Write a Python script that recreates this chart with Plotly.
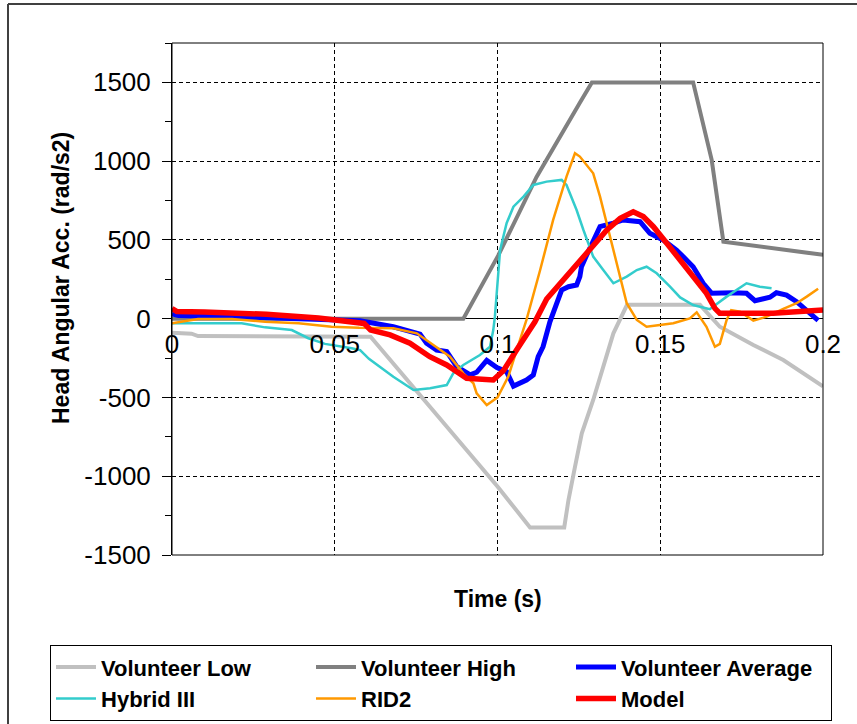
import plotly.graph_objects as go

# ---- series data: time (s) and head angular acceleration (rad/s2) ----
t_low = [0, 0.006, 0.008, 0.061, 0.1, 0.11, 0.1205, 0.1218, 0.1238, 0.1259, 0.1294, 0.1325,
         0.1356, 0.1398, 0.1622, 0.1683, 0.1786, 0.1878, 0.2]
v_low = [-90, -95, -110, -115, -1065, -1325, -1325, -1151, -940, -728, -516, -305,
         -93, 88, 88, -51, -167, -262, -430]

t_high = [0, 0.0895, 0.1002, 0.112, 0.1253, 0.129, 0.1601, 0.1658, 0.1694, 0.2]
v_high = [0, 0, 400, 900, 1370, 1500, 1500, 1008, 489, 405]

t_avg = [0, 0.002, 0.027, 0.0496, 0.0578, 0.068, 0.0721, 0.0762, 0.0782, 0.0813, 0.0844, 0.0875,
         0.0916, 0.0936, 0.0967, 0.0998, 0.1028, 0.1049, 0.1089, 0.111, 0.1125, 0.114, 0.1161,
         0.1182, 0.1197, 0.1218, 0.1243, 0.1253, 0.1258, 0.1274, 0.1294, 0.1315, 0.1356, 0.1386,
         0.1438, 0.1468, 0.1509, 0.155, 0.157, 0.1601, 0.1632, 0.1658, 0.1724, 0.1765, 0.1791,
         0.1837, 0.1857, 0.1888, 0.1919, 0.195, 0.1985]
v_avg = [30, 20, 8, -8, -13, -51, -72, -98, -156, -199, -209, -305,
         -357, -340, -265, -310, -336, -428, -389, -357, -241, -178, -20,
         105, 182, 203, 214, 267, 330, 404, 500, 584, 606, 627,
         616, 542, 500, 436, 394, 330, 225, 161, 165, 161, 114,
         136, 165, 150, 108, 55, -10]

t_hyb = [0, 0.008, 0.0214, 0.0286, 0.0368, 0.0419, 0.047, 0.0552, 0.0578, 0.0605, 0.068, 0.0742,
         0.0793, 0.0844, 0.0864, 0.0895, 0.0946, 0.0977, 0.0987, 0.0992, 0.1003, 0.1008, 0.1028,
         0.1049, 0.108, 0.111, 0.1151, 0.1197, 0.1212, 0.1243, 0.1264, 0.1294, 0.1325, 0.1356,
         0.1397, 0.1428, 0.1458, 0.1489, 0.153, 0.1561, 0.1601, 0.1652, 0.1704, 0.1765, 0.1806,
         0.1842]
v_hyb = [-29, -29, -29, -55, -72, -124, -160, -188, -199, -255, -368, -453,
         -442, -421, -347, -294, -231, -178, -72, 13, 350, 436, 606,
         711, 775, 849, 870, 881, 849, 690, 563, 394, 309, 225,
         267, 309, 330, 288, 203, 135, 87, 60, 140, 225, 203,
         193]

t_rid = [0, 0.008, 0.0184, 0.0286, 0.0389, 0.049, 0.0575, 0.068, 0.0752, 0.0803, 0.0854, 0.0895,
         0.0926, 0.0936, 0.0967, 0.1, 0.1033, 0.1059, 0.1089, 0.1131, 0.1171, 0.1212, 0.1238,
         0.1253, 0.1294, 0.1315, 0.1336, 0.1366, 0.1397, 0.1428, 0.1458, 0.1499, 0.154, 0.1591,
         0.1612, 0.1642, 0.1668, 0.1683, 0.1704, 0.1718, 0.1745, 0.1786, 0.1827, 0.1878, 0.1919,
         0.195, 0.1985]
v_rid = [-29, -2, -2, -19, -29, -51, -58, -61, -93, -167, -241, -347,
         -410, -474, -548, -500, -368, -199, -8, 309, 627, 902, 1050,
         1029, 923, 775, 606, 352, 98, -8, -51, -40, -29, 2,
         40, -51, -178, -160, -8, 55, 45, -12, 13, 63, 98,
         140, 190]

t_model = [0, 0.0015, 0.01, 0.029, 0.045, 0.05, 0.059, 0.061, 0.067, 0.0731, 0.0792, 0.0844,
           0.0895, 0.0905, 0.0987, 0.1018, 0.1069, 0.1115, 0.1151, 0.1192, 0.1223, 0.1284, 0.1336,
           0.1377, 0.1417, 0.1448, 0.1479, 0.152, 0.1561, 0.1601, 0.1642, 0.1668, 0.1683, 0.1847,
           0.195, 0.2]
v_model = [65, 45, 42, 28, 5, -10, -30, -72, -103, -156, -241, -294,
           -365, -378, -389, -330, -165, -20, 125, 225, 298, 436, 563,
           637, 679, 648, 584, 479, 373, 267, 161, 66, 34, 34,
           49, 55]

x_tick_vals = [0, 0.05, 0.1, 0.15, 0.2]
x_tick_text = ["0", "0.05", "0.1", "0.15", "0.2"]
y_tick_vals = [-1500, -1000, -500, 0, 500, 1000, 1500]
y_tick_text = ["-1500", "-1000", "-500", "0", "500", "1000", "1500"]

series = [
    ("Volunteer Low", t_low, v_low, "#C0C0C0", 4),
    ("Volunteer High", t_high, v_high, "#808080", 4),
    ("Volunteer Average", t_avg, v_avg, "#0000FF", 5),
    ("Hybrid III", t_hyb, v_hyb, "#33CCCC", 2.5),
    ("RID2", t_rid, v_rid, "#FF9900", 2.5),
    ("Model", t_model, v_model, "#FF0000", 5.5),
]

FONT = "Liberation Sans, Arial, sans-serif"
Y_MIN, Y_MAX = -1500, 1750
PLOT_H = 512  # plot-area height in px

fig = go.Figure()
for name, t, v, color, width in series:
    fig.add_trace(go.Scatter(x=t, y=v, mode="lines", name=name,
                             line=dict(color=color, width=width)))

grid = dict(showgrid=True, gridcolor="black", gridwidth=1, griddash="4px,3px")

fig.update_layout(
    width=857, height=724,
    margin=dict(l=172, r=34, t=43, b=169, autoexpand=False),
    paper_bgcolor="white", plot_bgcolor="white",
    font=dict(family=FONT, color="black"),
    showlegend=True,
    xaxis=dict(
        range=[0, 0.2], tickvals=x_tick_vals, ticktext=x_tick_text,
        # tick labels hang just under the y=0 line (the line itself is the y zeroline)
        anchor="free", position=(0 - Y_MIN) / (Y_MAX - Y_MIN) - 7 / PLOT_H,
        showline=False, zeroline=False, ticks="",
        tickfont=dict(size=26, family=FONT),
        automargin=False, **grid,
    ),
    yaxis=dict(
        range=[Y_MIN, Y_MAX], tickvals=y_tick_vals, ticktext=y_tick_text,
        showline=True, linecolor="black", linewidth=1,
        ticks="outside", ticklen=9, tickcolor="black", tickwidth=1,
        minor=dict(ticks="outside", dtick=250, ticklen=6, tickcolor="black", showgrid=False),
        zeroline=True, zerolinecolor="black", zerolinewidth=1,
        tickfont=dict(size=26, family=FONT), ticklabelstandoff=6,
        automargin=False, **grid,
    ),
    legend=dict(
        orientation="h", x=-0.1874, xanchor="left", y=-0.176, yanchor="top",
        bordercolor="black", borderwidth=1, bgcolor="white",
        font=dict(size=22, family=FONT, color="black", weight="bold"),
        entrywidth=205, entrywidthmode="pixels", itemwidth=40,
        traceorder="normal",
    ),
)

# plot-area border
fig.add_shape(type="rect", xref="paper", yref="paper", x0=0, x1=1, y0=0, y1=1,
              line=dict(color="black", width=1), layer="above")

# outer chart frame: only its left and top edges fall inside the page
frame_left = (8 - 172) / 651
frame_top = (555 - 4) / 512
fig.add_shape(type="line", xref="paper", yref="paper",
              x0=frame_left, x1=frame_left, y0=(555 - 724) / 512, y1=frame_top,
              line=dict(color="#404040", width=2), layer="below")
fig.add_shape(type="line", xref="paper", yref="paper",
              x0=frame_left, x1=(857 - 172) / 651, y0=frame_top, y1=frame_top,
              line=dict(color="#404040", width=2), layer="below")

# axis titles
fig.add_annotation(text="<b>Head Angular Acc. (rad/s2)</b>", textangle=-90,
                   xref="paper", yref="paper", x=(46 - 172) / 651, y=(555 - 278) / 512,
                   showarrow=False, font=dict(size=23, family=FONT, color="black"))
fig.add_annotation(text="<b>Time (s)</b>",
                   xref="paper", yref="paper", x=0.5, y=(555 - 614) / 512,
                   showarrow=False, font=dict(size=23, family=FONT, color="black"))

fig.write_html("out.html")
